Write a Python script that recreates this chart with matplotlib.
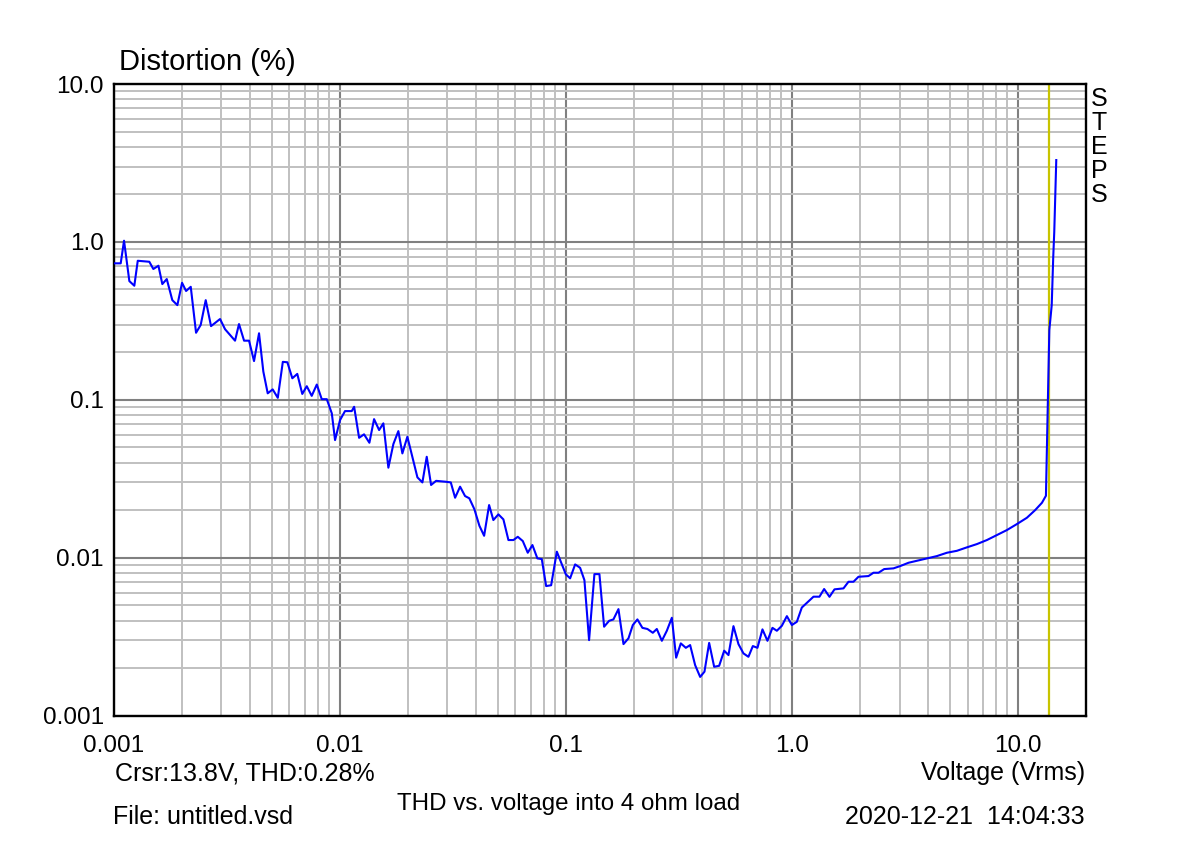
import matplotlib
matplotlib.use("Agg")
import matplotlib.pyplot as plt
from matplotlib.ticker import LogLocator, NullFormatter

plt.rcParams["font.family"] = ["Liberation Sans", "DejaVu Sans"]

# THD sweep (Vrms, %)
volts = [
    0.001, 0.001076, 0.001113, 0.001175, 0.001236, 0.00128, 0.00144, 0.0015, 0.00158, 0.001644,
    0.00172, 0.00182, 0.001916, 0.00201, 0.002094, 0.002196, 0.002318, 0.00243, 0.002558, 0.0027,
    0.00296, 0.003115, 0.003448, 0.00359, 0.00378, 0.003977, 0.004184, 0.004403, 0.0046, 0.00481,
    0.00506, 0.00533, 0.00561, 0.005875, 0.00618, 0.0065, 0.00684, 0.00716, 0.00753, 0.00793,
    0.00834, 0.00878, 0.00924, 0.00955, 0.01005, 0.01057, 0.01132, 0.0116, 0.0122, 0.01283,
    0.01355, 0.01421, 0.01496, 0.01562, 0.01644, 0.0173, 0.0182, 0.01896, 0.01995, 0.0221,
    0.02325, 0.0243, 0.0254, 0.02673, 0.0295, 0.03105, 0.03244, 0.03413, 0.0359, 0.0375,
    0.03948, 0.04155, 0.0436, 0.04587, 0.0479, 0.05043, 0.05306, 0.05584, 0.05875, 0.06144,
    0.06465, 0.068, 0.07131, 0.075, 0.07845, 0.082, 0.0863, 0.09145, 0.0962, 0.1002,
    0.1047, 0.1102, 0.1159, 0.1211, 0.127, 0.1341, 0.1411, 0.148, 0.1558, 0.1627,
    0.1713, 0.1803, 0.1897, 0.1983, 0.2078, 0.2186, 0.2301, 0.2431, 0.2532, 0.2665,
    0.2804, 0.2951, 0.3083, 0.3233, 0.3403, 0.3555, 0.3741, 0.3937, 0.4114, 0.4315,
    0.4541, 0.4778, 0.5029, 0.5254, 0.5527, 0.5816, 0.612, 0.6438, 0.6734, 0.7058,
    0.7427, 0.7815, 0.8222, 0.86, 0.9049, 0.9524, 1.002, 1.054, 1.109, 1.168,
    1.249, 1.327, 1.392, 1.47, 1.547, 1.695, 1.784, 1.877, 1.975, 2.187,
    2.301, 2.422, 2.566, 2.821, 3.021, 3.288, 3.581, 3.965, 4.391, 4.861,
    5.383, 5.96, 6.6, 7.307, 8.091, 8.958, 9.92, 10.98, 11.95, 12.8,
    13.33, 13.69, 13.8, 14.14, 14.26, 14.36, 14.51, 14.66, 14.81,
]
thd = [
    0.732, 0.732, 1.018, 0.565, 0.528, 0.760, 0.749, 0.674, 0.707, 0.541,
    0.582, 0.428, 0.398, 0.551, 0.489, 0.520, 0.266, 0.298, 0.428, 0.293,
    0.325, 0.280, 0.237, 0.302, 0.237, 0.237, 0.176, 0.264, 0.151, 0.110,
    0.1165, 0.103, 0.174, 0.173, 0.137, 0.146, 0.109, 0.122, 0.106, 0.125,
    0.101, 0.101, 0.0821, 0.0556, 0.0745, 0.0849, 0.0849, 0.0904, 0.0575, 0.0605,
    0.0535, 0.0755, 0.0644, 0.0710, 0.0372, 0.0525, 0.0634, 0.0458, 0.0584, 0.0323,
    0.0300, 0.0436, 0.0289, 0.0307, 0.0303, 0.0300, 0.0240, 0.0282, 0.0246, 0.0238,
    0.0203, 0.01595, 0.01378, 0.02157, 0.01733, 0.01883, 0.0175, 0.01295, 0.01295, 0.01358,
    0.01276, 0.01076, 0.01204, 0.00991, 0.00981, 0.00662, 0.0067, 0.01093, 0.00912, 0.00786,
    0.00741, 0.00908, 0.00864, 0.00722, 0.00301, 0.00788, 0.00788, 0.00366, 0.00399, 0.00407,
    0.00473, 0.00284, 0.00309, 0.00375, 0.00407, 0.0036, 0.00354, 0.00335, 0.00354, 0.00298,
    0.00345, 0.00417, 0.00233, 0.00287, 0.00269, 0.0028, 0.00209, 0.00176, 0.0019, 0.00289,
    0.00204, 0.00207, 0.00258, 0.00242, 0.00369, 0.00284, 0.00248, 0.00236, 0.00276, 0.00269,
    0.00352, 0.00298, 0.0036, 0.00345, 0.00371, 0.00427, 0.00375, 0.00393, 0.00484, 0.00519,
    0.00567, 0.00567, 0.00634, 0.00566, 0.00631, 0.0064, 0.00705, 0.00705, 0.00758, 0.00766,
    0.00804, 0.00804, 0.00848, 0.00857, 0.00886, 0.0093, 0.00957, 0.00991, 0.01025, 0.01076,
    0.01107, 0.01164, 0.01221, 0.01295, 0.01393, 0.01498, 0.01635, 0.01792, 0.02005, 0.0223,
    0.0247, 0.166, 0.277, 0.398, 0.574, 0.802, 1.155, 1.98, 3.30,
]

x_ticks = [0.001, 0.01, 0.1, 1.0, 10.0]
x_labels = ["0.001", "0.01", "0.1", "1.0", "10.0"]
y_ticks = [0.001, 0.01, 0.1, 1.0, 10.0]
y_labels = ["0.001", "0.01", "0.1", "1.0", "10.0"]

cursor_v = 13.8
cursor_thd = 0.28

fig = plt.figure(figsize=(12, 8.6), dpi=100)
ax = fig.add_axes([0.0946, 0.1678, 0.8102, 0.7345])

ax.set_xscale("log")
ax.set_yscale("log")
ax.set_xlim(0.001, 20)
ax.set_ylim(0.001, 10)

ax.set_xticks(x_ticks, x_labels)
ax.set_yticks(y_ticks, y_labels)
ax.xaxis.set_minor_locator(LogLocator(base=10, subs=range(2, 10)))
ax.yaxis.set_minor_locator(LogLocator(base=10, subs=range(2, 10)))
ax.xaxis.set_minor_formatter(NullFormatter())
ax.yaxis.set_minor_formatter(NullFormatter())
ax.tick_params(which="both", length=0)
ax.tick_params(axis="x", labelsize=17.5, pad=14)
ax.tick_params(axis="y", labelsize=17.5, pad=7)

ax.set_axisbelow(True)
ax.grid(which="minor", color="#c0c0c0", lw=1.4)
ax.grid(which="major", color="#808080", lw=1.5)
for s in ax.spines.values():
    s.set_linewidth(1.7)
    s.set_color("black")

ax.axvline(cursor_v, color="#c8c400", lw=1.6, zorder=2)
ax.plot(volts, thd, color="#0000ff", lw=1.5, zorder=3)

# screen annotations
fig.text(119 / 1200, 1 - 70 / 860, "Distortion (%)", fontsize=21, va="baseline")
fig.text(1091 / 1200, 1 - 87 / 860, "S\nT\nE\nP\nS", fontsize=18,
         va="top", ha="left", linespacing=1.0)
fig.text(115 / 1200, 1 - 780 / 860, f"Crsr:{cursor_v}V, THD:{cursor_thd}%",
         fontsize=18, va="baseline")
fig.text(1085 / 1200, 1 - 780 / 860, "Voltage (Vrms)", fontsize=18,
         va="baseline", ha="right")
fig.text(113 / 1200, 1 - 824 / 860, "File: untitled.vsd", fontsize=18, va="baseline")
fig.text(569 / 1200, 1 - 810 / 860, "THD vs. voltage into 4 ohm load", fontsize=17.4,
         va="baseline", ha="center")
fig.text(1085 / 1200, 1 - 824 / 860, "2020-12-21  14:04:33", fontsize=18,
         va="baseline", ha="right")

fig.savefig("out.png", dpi=100, facecolor="white")
